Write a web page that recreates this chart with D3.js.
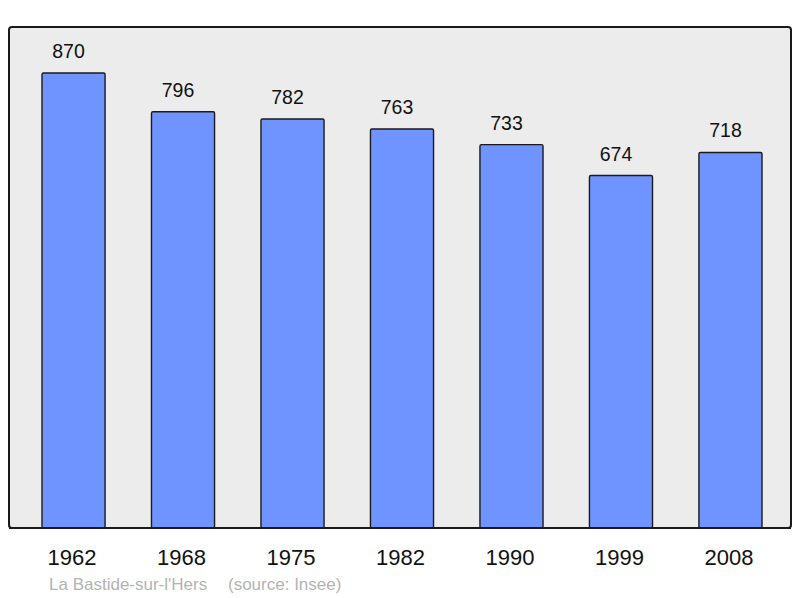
<!DOCTYPE html>
<html>
<head>
<meta charset="utf-8">
<script src="https://cdn.jsdelivr.net/npm/d3@7"></script>
<style>
    html, body { margin: 0; padding: 0; background: #fff; }
    svg { display: block; font-family: "Liberation Sans", Arial, sans-serif; }
</style>
</head>
<body>
<svg id="chart" width="800" height="598"></svg>
<script>
(function () {
    'use strict';

    // Population by census year
    const years = ['1962', '1968', '1975', '1982', '1990', '1999', '2008'];
    const population = [870, 796, 782, 763, 733, 674, 718];

    const footerName = "La Bastide-sur-l'Hers";
    const footerSource = '(source: Insee)';

    const svg = d3.select('#chart');

    // Plot frame
    const frame = { left: 9, top: 27, right: 791, bottom: 528 };

    const x = d3.scaleBand()
        .domain(years)
        .range([42, 762])
        .paddingInner(0.424)
        .paddingOuter(0);

    const y = d3.scaleLinear()
        .domain([0, 870])
        .range([frame.bottom, 73]);

    svg.append('rect')
        .attr('x', frame.left)
        .attr('y', frame.top)
        .attr('width', frame.right - frame.left)
        .attr('height', frame.bottom - frame.top)
        .attr('rx', 3)
        .attr('fill', '#ececec')
        .attr('stroke', '#1a1a1a')
        .attr('stroke-width', 2);

    const data = years.map(function (yr, i) { return { year: yr, value: population[i] }; });

    // Bars
    svg.selectAll('rect.bar')
        .data(data)
        .enter()
        .append('rect')
        .attr('class', 'bar')
        .attr('x', function (d) { return x(d.year); })
        .attr('y', function (d) { return y(d.value); })
        .attr('width', x.bandwidth())
        .attr('height', function (d) { return y(0) - y(d.value); })
        .attr('rx', 1.5)
        .attr('fill', '#7094ff')
        .attr('stroke', '#1a1a1a')
        .attr('stroke-width', 1.4);

    // Redraw bottom border so it sits on top of bars
    svg.append('line')
        .attr('x1', frame.left)
        .attr('x2', frame.right)
        .attr('y1', frame.bottom)
        .attr('y2', frame.bottom)
        .attr('stroke', '#1a1a1a')
        .attr('stroke-width', 2);

    // Value labels
    svg.selectAll('text.value')
        .data(data)
        .enter()
        .append('text')
        .attr('class', 'value')
        .attr('x', function (d) { return x(d.year) + x.bandwidth() / 2 - 5; })
        .attr('y', function (d) { return y(d.value) - 15; })
        .attr('text-anchor', 'middle')
        .attr('font-size', 19.5)
        .attr('fill', '#111')
        .text(function (d) { return d.value; });

    // Year labels
    svg.selectAll('text.year')
        .data(data)
        .enter()
        .append('text')
        .attr('class', 'year')
        .attr('x', function (d) { return x(d.year) + x.bandwidth() / 2 - 1.5; })
        .attr('y', 564.5)
        .attr('text-anchor', 'middle')
        .attr('font-size', 22)
        .attr('fill', '#111')
        .text(function (d) { return d.year; });

    // Footer
    svg.append('text')
        .attr('x', 49)
        .attr('y', 590)
        .attr('font-size', 17)
        .attr('fill', '#b3b3b3')
        .text(footerName);

    svg.append('text')
        .attr('x', 228)
        .attr('y', 590)
        .attr('font-size', 17)
        .attr('fill', '#b3b3b3')
        .text(footerSource);
})();
</script>
</body>
</html>
